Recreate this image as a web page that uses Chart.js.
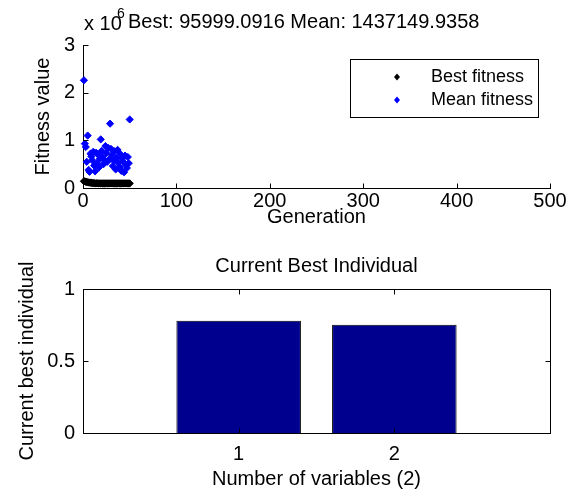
<!DOCTYPE html>
<html>
<head>
<meta charset="utf-8">
<title>GA fitness</title>
<script src="https://cdn.jsdelivr.net/npm/chart.js@4.4.1/dist/chart.umd.min.js"></script>
<style>
  html, body { margin: 0; padding: 0; background: #fff; }
  #wrap { position: relative; width: 570px; height: 493px; }
  #fitnessChart { position: absolute; left: 0; top: 0; }
  #bestChart { position: absolute; left: 0; top: 245px; }
</style>
</head>
<body>
<div id="wrap">
  <canvas id="fitnessChart" width="570" height="245" style="width:570px;height:245px"></canvas>
  <canvas id="bestChart" width="570" height="248" style="width:570px;height:248px"></canvas>
</div>
<script>
// data
const generations = [1, 2, 3, 4, 5, 6, 7, 8, 9, 10, 11, 12, 13, 14, 15, 16, 17, 18, 19, 20,
  21, 22, 23, 24, 25, 26, 27, 28, 29, 30, 31, 32, 33, 34, 35, 36, 37, 38, 39, 40,
  41, 42, 43, 44, 45, 46, 47, 48, 49, 50];
const bestFitness = [142000, 138000, 131000, 127000, 121000, 118000, 114000, 110000, 108000, 105000,
  103000, 101000, 99800, 98500, 97600, 96800, 96300, 96100, 96000, 96000,
  96000, 96000, 96000, 96000, 96000, 96000, 96000, 96000, 96000, 96000,
  96000, 96000, 96000, 96000, 96000, 96000, 96000, 96000, 96000, 96000,
  96000, 96000, 96000, 96000, 96000, 96000, 96000, 96000, 96000, 95999.0916];
const meanFitness = [2260000, 930000, 860000, 550000, 1100000, 380000, 340000, 720000, 660000, 580000,
  760000, 470000, 350000, 740000, 520000, 700000, 430000, 610000, 1020000, 780000,
  650000, 500000, 580000, 880000, 730000, 550000, 840000, 600000, 1350000, 820000,
  690000, 460000, 570000, 770000, 390000, 630000, 800000, 520000, 440000, 710000,
  360000, 620000, 550000, 330000, 680000, 480000, 420000, 650000, 520000, 1437149.9358];
const variables = [1, 2];
const bestIndividual = [0.78, 0.752];
const bottomXTicks = [1, 2];

const FONT = '"Liberation Sans", Arial, sans-serif';
const BLUE = 'rgb(0, 0, 255)';
const NAVY = 'rgb(0, 0, 143)';

// inward tick marks + optional full box (matlab style)
const tickMarks = {
  id: 'tickMarks',
  afterDraw(chart, args, opts) {
    const { ctx, chartArea: a } = chart;
    const xs = chart.scales.x, ys = chart.scales.y;
    const L = Math.round(a.left) + 0.5, R = Math.round(a.right) + 0.5;
    const T = Math.round(a.top) + 0.5, B = Math.round(a.bottom) + 0.5;
    ctx.save();
    ctx.strokeStyle = '#000';
    ctx.lineWidth = 1;
    ctx.beginPath();
    xs.ticks.forEach(t => {
      const px = Math.round(xs.getPixelForValue(t.value)) + 0.5;
      ctx.moveTo(px, B); ctx.lineTo(px, B - 5);
      if (opts.mirror) { ctx.moveTo(px, T); ctx.lineTo(px, T + 5); }
    });
    ys.ticks.forEach(t => {
      const py = Math.round(ys.getPixelForValue(t.value)) + 0.5;
      ctx.moveTo(L, py); ctx.lineTo(L + 5, py);
      if (opts.mirror) { ctx.moveTo(R, py); ctx.lineTo(R - 5, py); }
    });
    ctx.stroke();
    if (opts.box) ctx.strokeRect(L, T, R - L, B - T);
    ctx.restore();
  }
};

// title with exponent + boxed legend for the top plot
const topDecor = {
  id: 'topDecor',
  afterDraw(chart) {
    const ctx = chart.ctx;
    ctx.save();
    ctx.fillStyle = '#000';
    ctx.textBaseline = 'middle';
    ctx.textAlign = 'left';
    ctx.font = '20px ' + FONT;
    ctx.fillText('x 10', 84, 24);
    ctx.font = '14px ' + FONT;
    ctx.fillText('6', 117, 14);
    ctx.font = '20px ' + FONT;
    ctx.fillText('Best: 95999.0916 Mean: 1437149.9358', 128, 22);

    // legend
    ctx.fillStyle = '#fff';
    ctx.fillRect(350, 59, 188, 58);
    ctx.strokeStyle = '#000';
    ctx.lineWidth = 1;
    ctx.strokeRect(350.5, 59.5, 188, 58);
    const items = [['Best fitness', '#000', 77], ['Mean fitness', BLUE, 100]];
    ctx.font = '18px ' + FONT;
    items.forEach(([label, color, y]) => {
      ctx.fillStyle = color;
      ctx.beginPath();
      ctx.moveTo(397, y - 3.5); ctx.lineTo(400, y); ctx.lineTo(397, y + 3.5); ctx.lineTo(394, y);
      ctx.closePath();
      ctx.fill();
      ctx.fillStyle = '#000';
      ctx.fillText(label, 431, y);
    });
    ctx.restore();
  }
};

const tickFont = { family: FONT, size: 20 };
const noGrid = { display: false, drawTicks: false };

new Chart(document.getElementById('fitnessChart'), {
  type: 'scatter',
  data: {
    datasets: [{
      label: 'Best fitness',
      data: generations.map((g, i) => ({ x: g, y: bestFitness[i] })),
      pointStyle: 'rectRot',
      pointRadius: 3.6,
      backgroundColor: '#000',
      borderColor: '#000',
      borderWidth: 1,
      clip: false
    }, {
      label: 'Mean fitness',
      data: generations.map((g, i) => ({ x: g, y: meanFitness[i] })),
      pointStyle: 'rectRot',
      pointRadius: 3.6,
      backgroundColor: BLUE,
      borderColor: BLUE,
      borderWidth: 1,
      clip: false
    }]
  },
  options: {
    responsive: false,
    animation: false,
    layout: { padding: { top: 45, right: 20, left: 0, bottom: 0 } },
    plugins: {
      legend: { display: false },
      tooltip: { enabled: false },
      tickMarks: { mirror: false, box: false }
    },
    scales: {
      x: {
        type: 'linear', min: 0, max: 500,
        grid: noGrid,
        border: { display: true, color: '#000', width: 1 },
        ticks: { stepSize: 100, color: '#000', font: tickFont, padding: 1, maxRotation: 0 },
        title: { display: true, text: 'Generation', color: '#000', font: tickFont, padding: { top: 0, bottom: 16 } },
        afterFit: s => { s.height = 57; }
      },
      y: {
        min: 0, max: 3000000,
        grid: noGrid,
        border: { display: true, color: '#000', width: 1 },
        ticks: { stepSize: 1000000, color: '#000', font: tickFont, padding: 8, callback: v => v / 1000000 },
        title: { display: true, text: 'Fitness value', color: '#000', font: tickFont, padding: { top: 31, bottom: 0 } },
        afterFit: s => { s.width = 83; }
      }
    }
  },
  plugins: [tickMarks, topDecor]
});

new Chart(document.getElementById('bestChart'), {
  type: 'bar',
  data: {
    datasets: [{
      label: 'Current best individual',
      data: variables.map((v, i) => ({ x: v, y: bestIndividual[i] })),
      backgroundColor: NAVY,
      borderColor: '#000',
      borderWidth: 1,
      barPercentage: 0.8,
      categoryPercentage: 1
    }]
  },
  options: {
    responsive: false,
    animation: false,
    layout: { padding: { top: 0, right: 20, left: 0, bottom: 0 } },
    plugins: {
      legend: { display: false },
      tooltip: { enabled: false },
      title: {
        display: true, text: 'Current Best Individual', color: '#000',
        fullSize: false,
        font: { family: FONT, size: 20, weight: 'normal' },
        padding: { top: 9, bottom: 11 }
      },
      tickMarks: { mirror: true, box: true }
    },
    scales: {
      x: {
        type: 'linear', min: 0, max: 3, offset: false,
        grid: { display: false, drawTicks: false, offset: false },
        border: { display: false },
        afterBuildTicks: s => { s.ticks = bottomXTicks.map(v => ({ value: v })); },
        ticks: { color: '#000', font: tickFont, padding: 9, maxRotation: 0 },
        title: { display: true, text: 'Number of variables (2)', color: '#000', font: tickFont, padding: { top: 0, bottom: 2 } },
        afterFit: s => { s.height = 60; }
      },
      y: {
        min: 0, max: 1,
        grid: noGrid,
        border: { display: false },
        ticks: { stepSize: 0.5, color: '#000', font: tickFont, padding: 8, callback: v => String(v) },
        title: { display: true, text: 'Current best individual', color: '#000', font: tickFont, padding: { top: 15, bottom: 0 } },
        afterFit: s => { s.width = 83; }
      }
    }
  },
  plugins: [tickMarks]
});
</script>
</body>
</html>
